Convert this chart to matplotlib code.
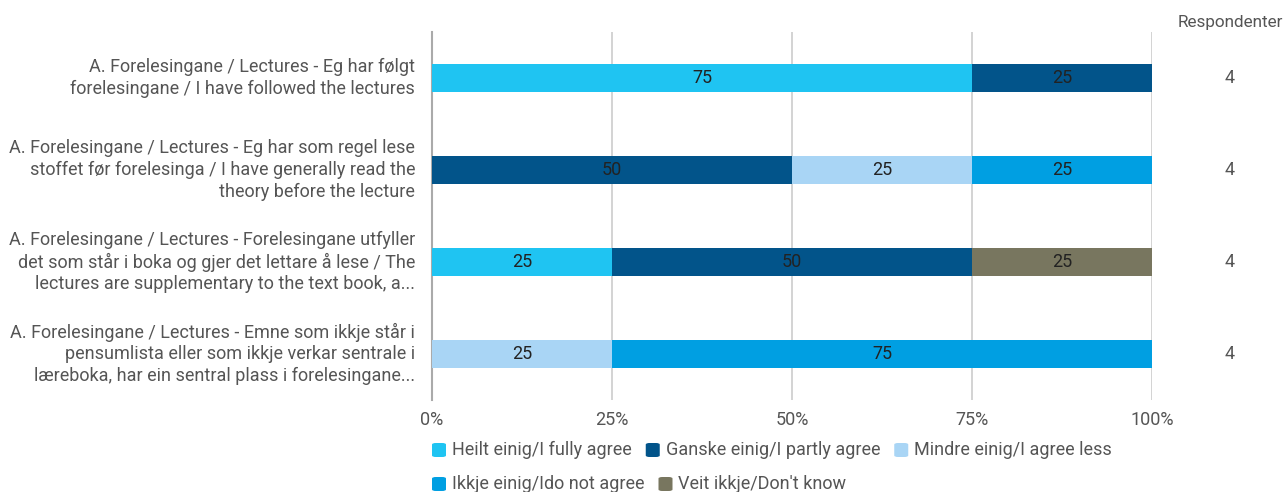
import matplotlib
matplotlib.use('Agg')

import numpy as np
import matplotlib.pyplot as plt
from matplotlib.patches import FancyBboxPatch

plt.rcParams['font.family'] = ['Roboto', 'DejaVu Sans']

# Data
questions = [
    'A. Forelesingane / Lectures - Eg har følgt\nforelesingane / I have followed the lectures',
    'A. Forelesingane / Lectures - Eg har som regel lese\nstoffet før forelesinga / I have generally read the\ntheory before the lecture',
    'A. Forelesingane / Lectures - Forelesingane utfyller\ndet som står i boka og gjer det lettare å lese / The\nlectures are supplementary to the text book, a...',
    'A. Forelesingane / Lectures - Emne som ikkje står i\npensumlista eller som ikkje verkar sentrale i\nlæreboka, har ein sentral plass i forelesingane...',
]
series_names = ['Heilt einig/I fully agree', 'Ganske einig/I partly agree',
                'Mindre einig/I agree less', 'Ikkje einig/Ido not agree',
                'Veit ikkje/Don\'t know']
fully_agree = [75, 0, 25, 0]
partly_agree = [25, 50, 50, 0]
agree_less = [0, 25, 0, 25]
not_agree = [0, 25, 0, 75]
dont_know = [0, 0, 25, 0]
respondents = [4, 4, 4, 4]
xticks = [0, 25, 50, 75, 100]
xtick_labels = ['0%', '25%', '50%', '75%', '100%']

colors = ['#1fc4f2', '#02548a', '#a9d5f5', '#009fe2', '#78765f']
series = [fully_agree, partly_agree, agree_less, not_agree, dont_know]

FS = 13
W, H = 1288, 492
fig = plt.figure(figsize=(W / 100, H / 100), dpi=100)
ax = fig.add_axes([432 / W, 1 - 400 / H, 720 / W, 368 / H])

y = np.arange(len(questions))
left = np.zeros(len(questions))
for vals, col in zip(series, colors):
    vals = np.array(vals, dtype=float)
    ax.barh(y, vals, left=left, height=0.30, color=col, zorder=3)
    for yi, v, l in zip(y, vals, left):
        if v > 0:
            ax.text(l + v / 2, yi, '%d' % v, ha='center', va='center',
                    fontsize=FS, color='#222222', zorder=4)
    left += vals

ax.set_xlim(0, 100)
ax.set_ylim(len(questions) - 0.5, -0.5)
ax.set_xticks(xticks)
ax.set_xticklabels(xtick_labels)
ax.set_yticks([])
ax.tick_params(axis='x', length=0, pad=8, labelsize=FS, labelcolor='#555555')
for s in ['top', 'right', 'bottom']:
    ax.spines[s].set_visible(False)
ax.spines['left'].set_color('#aaaaaa')
ax.spines['left'].set_linewidth(1.5)
ax.grid(axis='x', color='#cccccc', linewidth=1.2, zorder=0)

# Category labels
ytrans = ax.get_yaxis_transform()
for yi, q in zip(y, questions):
    ax.text(-17 / 720, yi, q, transform=ytrans, ha='right', va='center',
            multialignment='right', fontsize=FS, color='#555555',
            linespacing=1.25)

# Respondents column
fig.text(1230 / W, 1 - 22 / H, 'Respondenter', ha='center', va='center',
         fontsize=12.3, color='#555555')
for yi, r in zip(y, respondents):
    ax.text((1230 - 432) / 720, yi, str(r), transform=ytrans, ha='center',
            va='center', fontsize=FS, color='#555555')

# Legend (flow layout, in pixels from top-left)
renderer = fig.canvas.get_renderer()
rows = [[0, 1, 2], [3, 4]]
row_y = [450, 484]
for ry, idxs in zip(row_y, rows):
    x = 432
    for i in idxs:
        sw = FancyBboxPatch((x / W, (H - ry - 7) / H), 14 / W, 14 / H,
                            boxstyle='round,pad=0,rounding_size=0.003',
                            transform=fig.transFigure, facecolor=colors[i],
                            edgecolor='none')
        fig.patches.append(sw)
        t = fig.text((x + 20) / W, (H - ry) / H, series_names[i], ha='left',
                     va='center', fontsize=FS, color='#555555')
        bb = t.get_window_extent(renderer)
        x = x + 20 + bb.width + 14

fig.savefig('out.png', dpi=100)
